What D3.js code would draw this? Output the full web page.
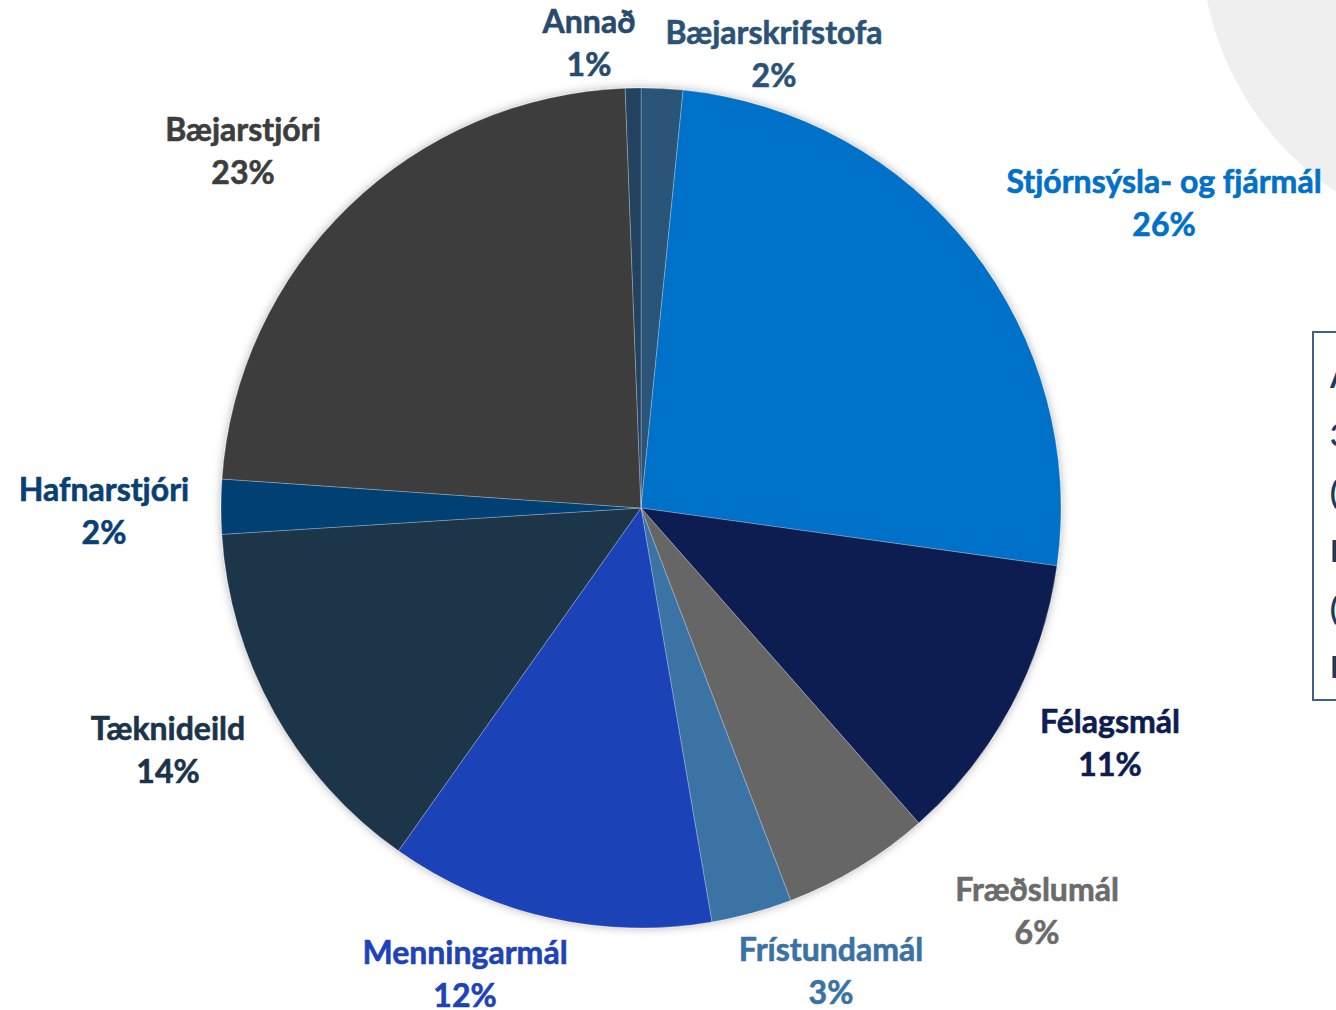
<!DOCTYPE html>
<html>
<head>
<meta charset="utf-8">
<script src="https://cdn.jsdelivr.net/npm/d3@7"></script>
<style>
  html, body { margin: 0; padding: 0; background: #fff; overflow: hidden; }
  svg { display: block; }
  .lbl { font-family: Lato, 'Open Sans', sans-serif; font-weight: 700; font-variant-ligatures: none; }
</style>
</head>
<body>
<script>
const width = 1336;
const height = 1010;

// slices, clockwise from 12 o'clock
const categories = ['Bæjarskrifstofa', 'Stjórnsýsla- og fjármál', 'Félagsmál', 'Fræðslumál', 'Frístundamál',
  'Menningarmál', 'Tæknideild', 'Hafnarstjóri', 'Bæjarstjóri', 'Annað'];
const shares = [1.6, 25.6, 11.3, 5.7, 3.1, 12.5, 14.2, 2.1, 23.3, 0.6];
const pctLabels = ['2%', '26%', '11%', '6%', '3%', '12%', '14%', '2%', '23%', '1%'];

const sliceColors = ['#2b5478', '#0071c9', '#0e1d51', '#666666', '#3b73a5',
  '#1f42b8', '#1c3449', '#003f73', '#3d3d3d', '#22425f'];
const labelColors = ['#2b5376', '#0070c8', '#0e1d51', '#6b6b6b', '#3a72a4',
  '#1f42b8', '#1c3449', '#0a3f73', '#3d3d3d', '#284a6c'];

// label anchor offsets from pie centre (layout, not data)
const labelOffsets = {
  'Bæjarskrifstofa': [133, -454],
  'Stjórnsýsla- og fjármál': [523, -305],
  'Félagsmál': [469, 235],
  'Fræðslumál': [396, 403],
  'Frístundamál': [190, 463],
  'Menningarmál': [-176, 466],
  'Tæknideild': [-473, 242],
  'Hafnarstjóri': [-537, 3],
  'Bæjarstjóri': [-398, -357],
  'Annað': [-52, -465]
};

const cx = 641, cy = 508, radius = 420;

const svg = d3.select('body').append('svg')
  .attr('width', width)
  .attr('height', height);

const defs = svg.append('defs');
const shadow = defs.append('filter')
  .attr('id', 'pieShadow')
  .attr('x', '-10%').attr('y', '-10%')
  .attr('width', '120%').attr('height', '120%');
shadow.append('feDropShadow')
  .attr('dx', 0).attr('dy', 0)
  .attr('stdDeviation', 5)
  .attr('flood-color', '#000')
  .attr('flood-opacity', 0.3);

// decorative background circle, top right
svg.append('circle')
  .attr('cx', 1503).attr('cy', -60).attr('r', 302)
  .attr('fill', '#efefef');

const pie = d3.pie().sort(null).value(d => d.value);
const arc = d3.arc().innerRadius(0).outerRadius(radius);

const data = categories.map((c, i) => ({ name: c, value: shares[i], pct: pctLabels[i], i }));

const g = svg.append('g').attr('transform', `translate(${cx},${cy})`);

g.append('g')
  .attr('filter', 'url(#pieShadow)')
  .selectAll('path')
  .data(pie(data))
  .join('path')
    .attr('d', arc)
    .attr('fill', d => sliceColors[d.data.i])
    .attr('stroke', 'rgba(255,255,255,0.25)')
    .attr('stroke-width', 1);

const labels = g.append('g')
  .selectAll('text')
  .data(data)
  .join('text')
    .attr('class', 'lbl')
    .attr('text-anchor', 'middle')
    .attr('font-size', 32)
    .attr('fill', d => labelColors[d.i])
    .attr('stroke', d => labelColors[d.i])
    .attr('stroke-width', 0.6)
    .attr('transform', d => `translate(${labelOffsets[d.name][0]},${labelOffsets[d.name][1]})`);

labels.append('tspan')
  .attr('x', 0).attr('y', -10)
  .text(d => d.name);
labels.append('tspan')
  .attr('x', 0).attr('y', 33)
  .text(d => d.pct);

// partially visible text box at right edge
svg.append('rect')
  .attr('x', 1313).attr('y', 332)
  .attr('width', 60).attr('height', 368)
  .attr('fill', '#fff')
  .attr('stroke', '#3d6189')
  .attr('stroke-width', 2);

const boxLines = ['A', '3', '(', 'I', '(', 'I'];
svg.append('g')
  .selectAll('text')
  .data(boxLines)
  .join('text')
    .attr('class', 'lbl')
    .attr('x', 1330)
    .attr('y', (d, i) => 388 + i * 58)
    .attr('font-size', 30)
    .attr('fill', '#1f3a5c')
    .text(d => d);
</script>
</body>
</html>
